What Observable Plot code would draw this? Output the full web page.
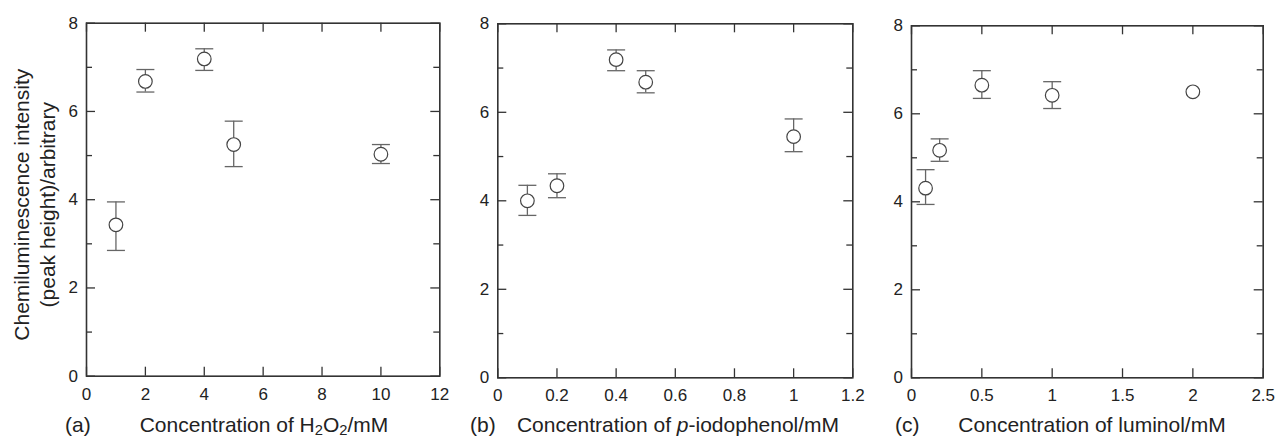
<!DOCTYPE html>
<html><head><meta charset="utf-8">
<script src="https://cdn.jsdelivr.net/npm/d3@7"></script>
<script src="https://cdn.jsdelivr.net/npm/@observablehq/plot@0.6"></script>
<style>
body{margin:0;background:#fff;}
#wrap{position:relative;width:1276px;height:438px;overflow:hidden;font-family:"Liberation Sans",Arial,Helvetica,sans-serif;color:#222;}
.panel{position:absolute;top:0;}
.panel svg{font-family:"Liberation Sans",Arial,Helvetica,sans-serif;}
.panel g[aria-label="x-axis tick label"], .panel g[aria-label="y-axis tick label"]{font-size:17px;}
.xt{position:absolute;top:414px;font-size:21px;white-space:nowrap;line-height:21px;}
.ctr{transform:translateX(-50%);}
sub{font-size:0.7em;vertical-align:-0.2em;line-height:0;}
</style></head><body><div id="wrap"></div>
<script>
// ---- data ----
const yTicksMajor = [0, 2, 4, 6, 8];
const yTicksMinor = [1, 3, 5, 7];

const h2o2Conc = [1, 2, 4, 5, 10];
const h2o2Mean = [3.43, 6.68, 7.19, 5.25, 5.03];
const h2o2Low  = [2.85, 6.44, 6.93, 4.75, 4.82];
const h2o2High = [3.95, 6.95, 7.42, 5.78, 5.25];
const h2o2Ticks = [0, 2, 4, 6, 8, 10, 12];

const iodoConc = [0.1, 0.2, 0.4, 0.5, 1];
const iodoMean = [4.0, 4.34, 7.19, 6.68, 5.45];
const iodoLow  = [3.67, 4.07, 6.94, 6.44, 5.11];
const iodoHigh = [4.35, 4.61, 7.41, 6.94, 5.85];
const iodoTicks = [0, 0.2, 0.4, 0.6, 0.8, 1, 1.2];

const lumConc = [0.1, 0.2, 0.5, 1, 2];
const lumMean = [4.31, 5.17, 6.65, 6.42, 6.5];
const lumLow  = [3.94, 4.92, 6.35, 6.12, null];
const lumHigh = [4.73, 5.43, 6.98, 6.73, null];
const lumTicks = [0, 0.5, 1, 1.5, 2, 2.5];

const yTitle = "Chemiluminescence intensity\n(peak height)/arbitrary";

// ---- drawing ----
const capSymbol = {draw(ctx, size) { const r = Math.sqrt(size / Math.PI); ctx.moveTo(-r, 0); ctx.lineTo(r, 0); }};
const wrap = document.getElementById("wrap");
const H = 405;

function panel(cfg) {
  const rows = cfg.conc.map((c, i) => ({x: c, y: cfg.mean[i], lo: cfg.low[i], hi: cfg.high[i]}));
  const bars = rows.filter(d => d.lo != null && d.hi != null);
  const iw = cfg.width - cfg.mL - cfg.mR;
  const ih = H - cfg.mT - cfg.mB;
  const tickStyle = {stroke: "#333", strokeWidth: 1.3};
  const marks = [
    Plot.tickX(cfg.ticks, {x: d => d, insetTop: ih - 9, ...tickStyle}),
    Plot.tickX(cfg.ticks, {x: d => d, insetBottom: ih - 9, ...tickStyle}),
    Plot.tickY(yTicksMajor, {y: d => d, insetRight: iw - 9, ...tickStyle}),
    Plot.tickY(yTicksMajor, {y: d => d, insetLeft: iw - 9, ...tickStyle}),
    Plot.tickY(yTicksMinor, {y: d => d, insetRight: iw - 6, ...tickStyle}),
    Plot.tickY(yTicksMinor, {y: d => d, insetLeft: iw - 6, ...tickStyle}),
    Plot.axisX({ticks: cfg.ticks, tickSize: 0, tickPadding: 11.5, tickFormat: d => String(d), label: null, fontSize: 17}),
    Plot.axisY({ticks: yTicksMajor, tickSize: 0, tickPadding: 8.5, tickFormat: d => String(d), label: null, fontSize: 17}),
    Plot.frame({stroke: "#333", strokeWidth: 1.6}),
    Plot.ruleX(bars, {x: "x", y1: "lo", y2: "hi", stroke: "#666", strokeWidth: 1.3}),
    Plot.dot(bars, {x: "x", y: "hi", r: 9, symbol: capSymbol, stroke: "#666", fill: "none", strokeWidth: 1.3}),
    Plot.dot(bars, {x: "x", y: "lo", r: 9, symbol: capSymbol, stroke: "#666", fill: "none", strokeWidth: 1.3}),
    Plot.dot(rows, {x: "x", y: "y", r: 6.8, stroke: "#444", fill: "white", strokeWidth: 1.2})
  ];
  if (cfg.yTitle) {
    marks.push(Plot.text([cfg.yTitle], {text: d => d, frameAnchor: "left", textAnchor: "middle", lineAnchor: "middle", rotate: -90, dx: -53, dy: 5, lineHeight: 1.24, fontSize: 21, fill: "#222"}));
  }
  const svg = Plot.plot({
    width: cfg.width, height: H,
    marginLeft: cfg.mL, marginRight: cfg.mR, marginTop: cfg.mT, marginBottom: cfg.mB,
    x: {domain: cfg.domain},
    y: {domain: [0, 8]},
    style: "font-size:17px;color:#222;background:transparent;overflow:visible;",
    marks
  });
  const box = document.createElement("div");
  box.className = "panel";
  box.style.left = cfg.left + "px";
  box.appendChild(svg);
  wrap.appendChild(box);
  const tag = document.createElement("div");
  tag.className = "xt"; tag.style.left = cfg.tagX + "px"; tag.textContent = cfg.tag;
  wrap.appendChild(tag);
  const t = document.createElement("div");
  t.className = "xt ctr"; t.style.left = cfg.titleX + "px"; t.innerHTML = cfg.title;
  wrap.appendChild(t);
}

panel({left: 0, width: 446, mL: 86, mR: 6.7, mT: 22.7, mB: H - 375.7, domain: [0, 12], ticks: h2o2Ticks,
  conc: h2o2Conc, mean: h2o2Mean, low: h2o2Low, high: h2o2High, yTitle,
  tag: "(a)", tagX: 65, title: "Concentration of H<sub>2</sub>O<sub>2</sub>/mM", titleX: 264});
panel({left: 446, width: 414, mL: 51.3, mR: 7.7, mT: 23.3, mB: H - 377.3, domain: [0, 1.2], ticks: iodoTicks,
  conc: iodoConc, mean: iodoMean, low: iodoLow, high: iodoHigh,
  tag: "(b)", tagX: 470, title: "Concentration of <i>p</i>-iodophenol/mM", titleX: 678});
panel({left: 860, width: 416, mL: 51, mR: 13.3, mT: 25.3, mB: H - 377.3, domain: [0, 2.5], ticks: lumTicks,
  conc: lumConc, mean: lumMean, low: lumLow, high: lumHigh,
  tag: "(c)", tagX: 895, title: "Concentration of luminol/mM", titleX: 1092});
</script></body></html>
